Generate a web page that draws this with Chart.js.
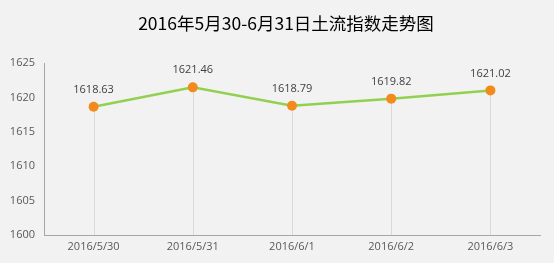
<!DOCTYPE html>
<html><head><meta charset="utf-8">
<script src="https://cdn.jsdelivr.net/npm/chart.js@4"></script>
<style>html,body{margin:0;padding:0;background:#f2f2f2;}#wrap{width:554px;height:263px;position:relative;}</style>
</head><body><div id="wrap"><canvas id="c" width="554" height="263"></canvas></div>
<script>
const title = "2016年5月30-6月31日土流指数走势图";
const categories = ["2016/5/30","2016/5/31","2016/6/1","2016/6/2","2016/6/3"];
const values = [1618.63, 1621.46, 1618.79, 1619.82, 1621.02];
const yTicks = [1600,1605,1610,1615,1620,1625];

const bgPlugin = {
  id:'bg',
  beforeDraw(chart){const c=chart.ctx;c.save();c.fillStyle='#f2f2f2';c.fillRect(0,0,chart.width,chart.height);
    c.font='17.5px "Noto Sans CJK SC", sans-serif';c.fillStyle='#000';c.textAlign='center';c.textBaseline='middle';
    c.fillText(title,286,23);c.restore();}
};
const dropPlugin = {
  id:'drop',
  beforeDatasetsDraw(chart){
    const c=chart.ctx, meta=chart.getDatasetMeta(0), bottom=chart.chartArea.bottom;
    c.save();c.strokeStyle='#d9d9d9';c.lineWidth=1;
    meta.data.forEach(p=>{const x=Math.round(p.x)+0.5;c.beginPath();c.moveTo(x,p.y);c.lineTo(x,bottom);c.stroke();});
    c.restore();
  },
  afterDatasetsDraw(chart){
    const c=chart.ctx, meta=chart.getDatasetMeta(0);
    c.save();c.font='11px "Open Sans", "DejaVu Sans", sans-serif';c.fillStyle='#404040';c.textAlign='center';c.textBaseline='middle';
    meta.data.forEach((p,i)=>{c.fillText(values[i].toFixed(2),p.x,p.y-17);});
    c.restore();
  }
};

new Chart(document.getElementById('c'),{
  type:'line',
  data:{labels:categories,datasets:[{data:values,borderColor:'#92d050',borderWidth:2.5,pointRadius:5,pointHoverRadius:5,
    pointBackgroundColor:'#f38b1c',pointBorderColor:'#f38b1c',pointBorderWidth:0,tension:0}]},
  options:{
    responsive:false,animation:false,devicePixelRatio:1,
    layout:{padding:{top:63,left:0,right:14,bottom:0}},
    plugins:{legend:{display:false},title:{display:false},tooltip:{enabled:false}},
    scales:{
      x:{offset:true,grid:{display:false,drawTicks:false},border:{display:true,color:'#a6a6a6',width:1},
        ticks:{color:'#595959',font:{size:11,family:'"Open Sans","DejaVu Sans",sans-serif'},padding:5,maxRotation:0},
        afterFit(s){s.height=28;}},
      y:{min:1600,max:1625,grid:{display:false,drawTicks:false},border:{display:true,color:'#a6a6a6',width:1},
        afterBuildTicks(s){s.ticks=yTicks.map(v=>({value:v}));},
        ticks:{color:'#595959',font:{size:11,family:'"Open Sans","DejaVu Sans",sans-serif'},padding:9,callback:v=>String(v)},
        afterFit(s){s.width=44;}}
    }
  },
  plugins:[bgPlugin,dropPlugin]
});
</script></body></html>
